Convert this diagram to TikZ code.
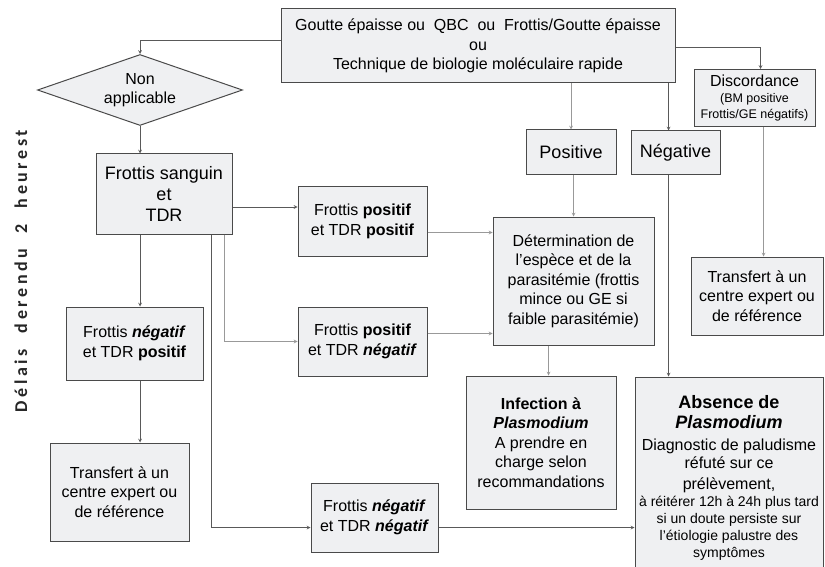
\documentclass[tikz,border=0pt]{standalone}
\usepackage{fontspec}
\setmainfont{Liberation Sans}
\newfontfamily\delaisfont[LetterSpace=20]{Carlito}
\usetikzlibrary{shapes.geometric}
\definecolor{boxgray}{HTML}{EFF0F2}
\definecolor{edgegray}{HTML}{4A4A4A}
\newcommand\petit{\fontsize{12.5}{15}\selectfont}
\newcommand\moyen{\fontsize{14}{17}\selectfont}
\newcommand\normal{\fontsize{16}{19.5}\selectfont}
\newcommand\grand{\fontsize{18}{21}\selectfont}

\begin{document}
\begin{tikzpicture}[x=1pt, y=-1pt,
    box/.style={draw=edgegray, fill=boxgray, line width=1pt, align=center, inner sep=0pt, font=\normal},
    arr/.style={-stealth, draw=black!65, line width=0.7pt},
    arrl/.style={-stealth, draw=black!40, line width=0.7pt}]
    \useasboundingbox (0,0) rectangle (825,567);
    %tikz paludisme
    \node[box, minimum width=394pt, minimum height=74pt] at (478,46) (top){Goutte épaisse ou\ \ QBC\ \ ou\ \ Frottis/Goutte épaisse\\ou\\Technique de biologie moléculaire rapide};
    \node[box, diamond, aspect=2.9, minimum width=205pt, minimum height=71pt] at (140,90) (na){Non\\applicable};
    \node[box, minimum width=136pt, minimum height=80pt, font=\grand] at (164,194) (sang){Frottis sanguin\\et\\TDR};
    \node[box, minimum width=129pt, minimum height=69pt] at (362.5,221.5) (fpp){Frottis \textbf{positif}\\et TDR \textbf{positif}};
    \node[box, minimum width=129pt, minimum height=69pt] at (362.5,341.5) (fpn){Frottis \textbf{positif}\\et TDR \textbf{\itshape négatif}};
    \node[box, minimum width=137pt, minimum height=73pt] at (134.5,343.5) (fnp){Frottis \textbf{\itshape négatif}\\et TDR \textbf{positif}};
    \node[box, minimum width=127pt, minimum height=69pt] at (374.5,517.5) (fnn){Frottis \textbf{\itshape négatif}\\et TDR \textbf{\itshape négatif}};
    \node[box, minimum width=139pt, minimum height=98pt] at (119.5,492) (tleft){Transfert à un\\centre expert ou\\de référence};
    \node[box, minimum width=90pt, minimum height=45pt, font=\grand] at (571,152.5) (pos){Positive};
    \node[box, minimum width=89pt, minimum height=44pt, font=\grand] at (675.5,153) (neg){Négative};
    \node[box, minimum width=121pt, minimum height=57pt] at (754.5,98) (disc){Discordance\\[-3pt]\petit (BM positive\\[-4pt]\petit Frottis/GE négatifs)};
    \node[box, minimum width=161pt, minimum height=128pt] at (573.5,281) (det){Détermination de\\l’espèce et de la\\parasitémie (frottis\\mince ou GE si\\faible parasitémie)};
    \node[box, minimum width=150pt, minimum height=133pt] at (541,442.5) (inf){\textbf{Infection à}\\\textbf{\itshape Plasmodium}\\A prendre en\\charge selon\\recommandations};
    \node[box, minimum width=188pt, minimum height=201pt, font=\moyen] at (729,477.5) (abs){\grand\bfseries Absence de\\[3pt]\grand\bfseries\itshape Plasmodium\\[5pt]\normal Diagnostic de paludisme\\[1pt]\normal réfuté sur ce\\[4pt]\normal prélèvement,\\\moyen à réitérer 12h à 24h plus tard\\\moyen si un doute persiste sur\\\moyen l'étiologie palustre des\\\moyen symptômes};
    \node[box, minimum width=132pt, minimum height=78pt] at (757,296) (tright){Transfert à un\\centre expert ou\\de référence};
    \node[rotate=90, font=\delaisfont\fontsize{18}{21}\selectfont\bfseries, text=black!85] at (21,271) (delais){Délais\hspace{8pt} derendu\hspace{8pt} 2\hspace{8pt} heurest};

    \coordinate (nx) at ([xshift=-7pt]neg.north);
    \coordinate (s1) at ([yshift=-13pt]sang.east);
    \coordinate (p1) at ([yshift=-11pt]fpp.east);
    \coordinate (p2) at ([yshift=8pt]fpn.east);
    \coordinate (d1) at ([xshift=-25pt]det.south);
    \coordinate (f1) at ([yshift=-10pt]fnn.east);
    \coordinate (c1) at ([xshift=9pt]disc.south);
    \draw[arr] ([yshift=6pt]top.west) -| (na.north);
    \draw[arr] ([yshift=-1pt]top.east) -| ([xshift=6pt]disc.north);
    \draw[arrl] (top.south -| pos.north) -- (pos.north);
    \draw[arr] (nx |- top.south) -- (nx);
    \draw[arr] (na.south) -- (na.south |- sang.north);
    \draw[arr] (s1) -- (s1 -| fpp.west);
    \draw[arr] (na.south |- sang.south) -- (na.south |- fnp.north);
    \draw[arrl] ([xshift=60pt]sang.south) |- (fpn.west);
    \draw[arr] ([xshift=47pt]sang.south) |- ([yshift=-10pt]fnn.west);
    \draw[arr] (na.south |- fnp.south) -- (na.south |- tleft.north);
    \draw[arrl] (p1) -- (p1 -| det.west);
    \draw[arrl] (p2) -- (p2 -| det.west);
    \draw[arrl] (det.north |- pos.south) -- (det.north);
    \draw[arrl] (d1) -- (d1 |- inf.north);
    \draw[arr] (nx |- neg.south) -- (nx |- abs.north);
    \draw[arr] (f1) -- (f1 -| abs.west);
    \draw[arrl] (c1) -- (c1 |- tright.north);
\end{tikzpicture}
\end{document}
